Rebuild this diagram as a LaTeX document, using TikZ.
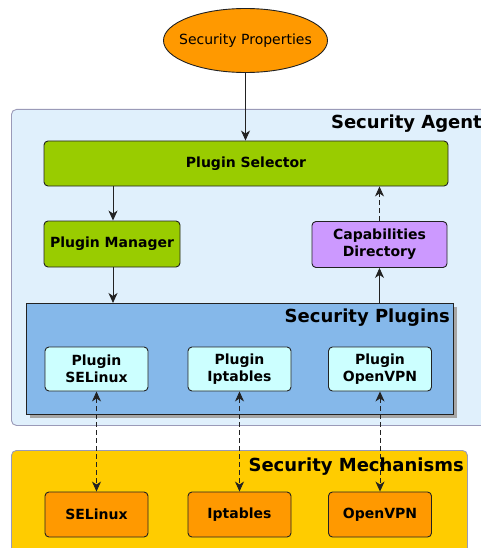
\documentclass[tikz,border=0pt]{standalone}
\usepackage{fontspec}
\setmainfont{DejaVu Sans}
\usetikzlibrary{arrows.meta,shapes.geometric}
\definecolor{agentfill}{HTML}{E0F0FC}
\definecolor{agentdraw}{HTML}{9A9AB8}
\definecolor{selgreen}{HTML}{99CC00}
\definecolor{capviolet}{HTML}{CC99FF}
\definecolor{plugblue}{HTML}{85B8EA}
\definecolor{plugcyan}{HTML}{CCFFFF}
\definecolor{mechyellow}{HTML}{FFCC00}
\definecolor{mechorange}{HTML}{FF9900}
\definecolor{edgegrey}{HTML}{222222}
\tikzset{
  x=1pt, y=-1pt,
  box/.style={draw=edgegrey, line width=0.9pt, rounded corners=4pt, inner sep=0pt,
    align=center, font=\fontsize{14}{16.8}\selectfont\bfseries},
  container/.style={draw=agentdraw, line width=0.9pt, rounded corners=5pt, inner sep=0pt},
  biglabel/.style={anchor=base east, inner sep=0pt, font=\fontsize{18}{21}\selectfont\bfseries},
  tip/.tip={Stealth[length=10pt,width=9pt,inset=3pt]},
  arr/.style={-tip, line width=0.9pt, draw=edgegrey},
  darr/.style={tip-tip, line width=0.9pt, draw=edgegrey, dash pattern=on 5pt off 3pt},
  dashedarr/.style={arr, dash pattern=on 5pt off 3pt},
}
\begin{document}
\begin{tikzpicture}
\useasboundingbox (0,0) rectangle (481,548);
\clip (0,0) rectangle (481,548);
% containers
\node[container, fill=agentfill, minimum width=480, minimum height=316, anchor=north west] (agent) at (11,109) {};
\node[container, fill=mechyellow, minimum width=456, minimum height=110, anchor=north west] (mech) at (11,450) {};
% security plugins with shadow
\fill[gray!70] (30,307) rectangle (457,418);
\node[draw=edgegrey, line width=0.9pt, fill=plugblue, inner sep=0pt, minimum width=427, minimum height=111, anchor=north west] (plugins) at (26,303) {};
% labels
\node[biglabel] (agentlbl) at (482,129) {Security Agent};
\node[biglabel] (pluglbl) at (450,322) {Security Plugins};
\node[biglabel] (mechlbl) at (464,471) {Security Mechanisms};
% top ellipse
\node[ellipse, draw=edgegrey, line width=0.9pt, fill=mechorange, minimum width=164, minimum height=64, inner sep=0pt,
  font=\fontsize{14}{16.8}\selectfont] (props) at (245.5,40.5) {\makebox[0pt]{Security Properties}};
% boxes
\node[box, fill=selgreen, minimum width=404, minimum height=45] (sel) at (246,163.5) {Plugin Selector};
\node[box, fill=selgreen, minimum width=136, minimum height=46] (mgr) at (112,244) {Plugin Manager};
\node[box, fill=capviolet, minimum width=135, minimum height=46] (cap) at (379.5,244.5) {Capabilities\\Directory};
\node[box, fill=plugcyan, minimum width=103, minimum height=44] (pse) at (96.5,369) {Plugin\\SELinux};
\node[box, fill=plugcyan, minimum width=103, minimum height=44] (pip) at (239.5,369) {Plugin\\Iptables};
\node[box, fill=plugcyan, minimum width=103, minimum height=44] (pvpn) at (380,369) {Plugin\\OpenVPN};
\node[box, fill=mechorange, minimum width=103, minimum height=45] (mse) at (96.5,514.5) {SELinux};
\node[box, fill=mechorange, minimum width=103, minimum height=45] (mip) at (239.5,514.5) {Iptables};
\node[box, fill=mechorange, minimum width=103, minimum height=45] (mvpn) at (380,514.5) {OpenVPN};
% connectors
\draw[arr] (props.south) -- (props.south |- sel.north);
\draw[arr] (113,186) coordinate (a1) -- (a1 |- mgr.north);
\draw[arr] (mgr.south) ++(1,0) coordinate (a2) -- (a2 |- plugins.north);
\draw[arr] (cap.south |- plugins.north) -- (cap.south);
\draw[dashedarr] (cap.north) -- (cap.north |- sel.south);
\draw[darr] (pse.south) -- (mse.north);
\draw[darr] (pip.south) -- (mip.north);
\draw[darr] (pvpn.south) -- (mvpn.north);
\end{tikzpicture}
\end{document}
